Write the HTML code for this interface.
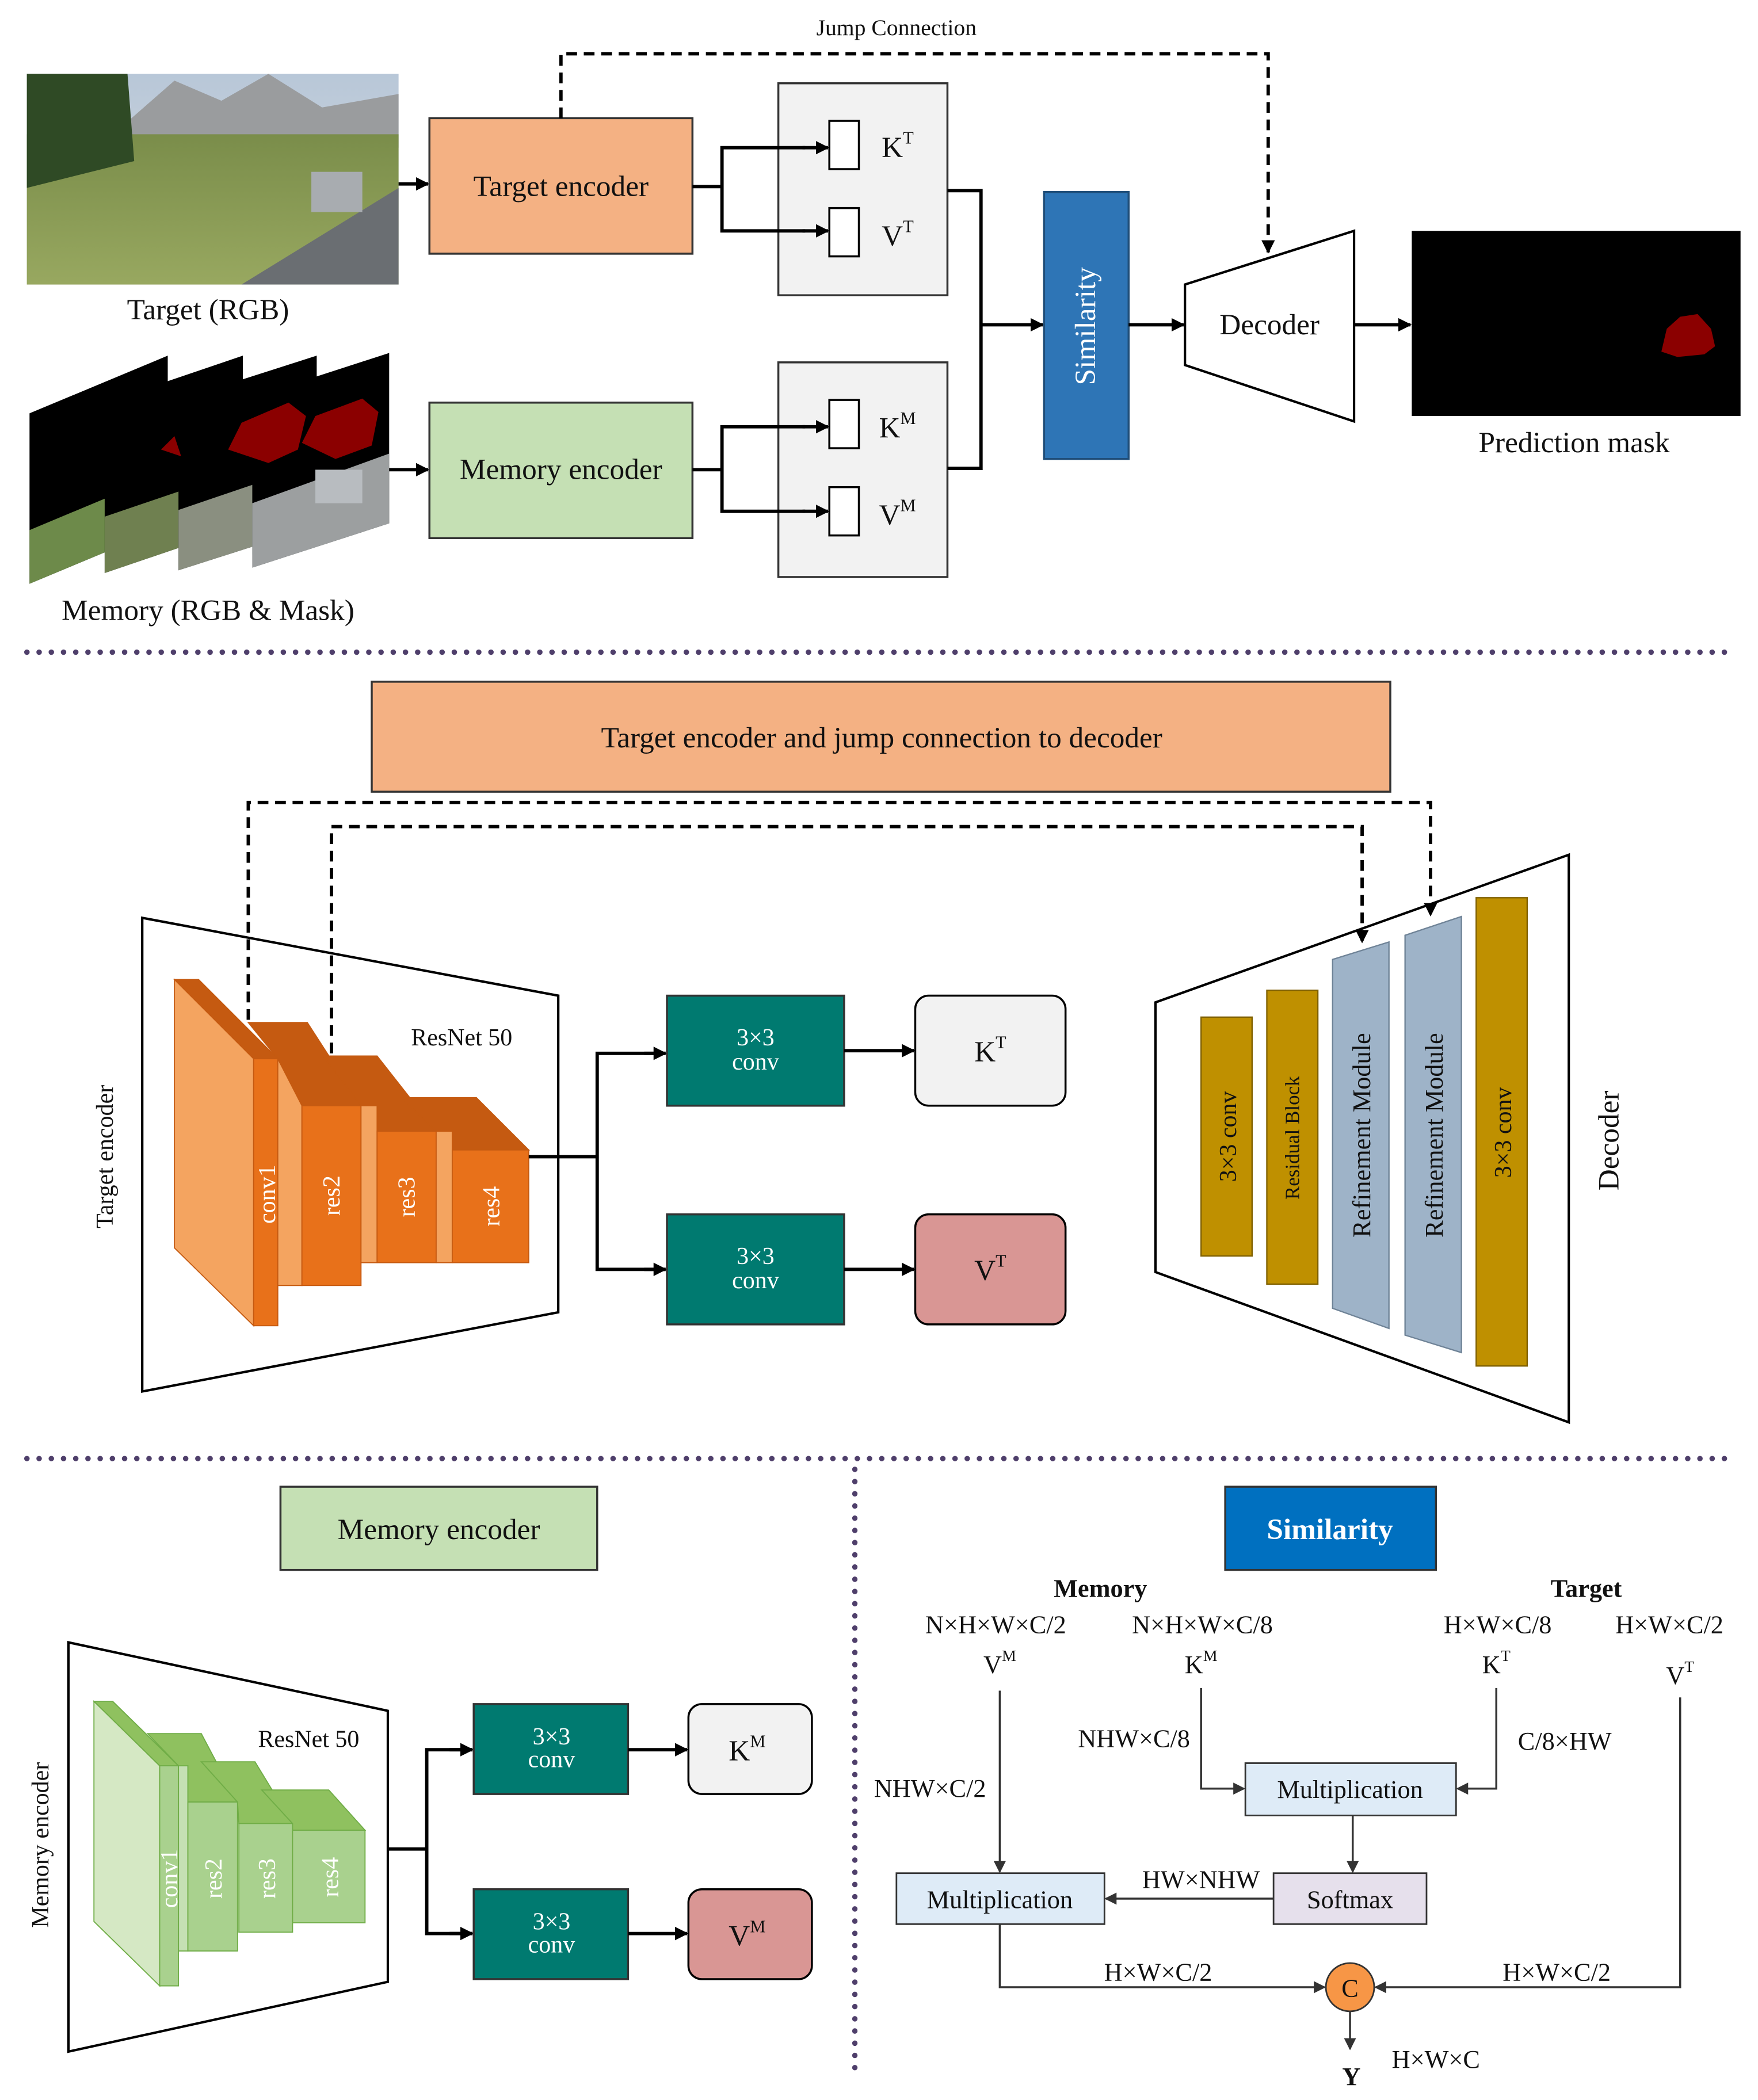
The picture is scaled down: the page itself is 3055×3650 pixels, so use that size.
<!DOCTYPE html>
<html><head><meta charset="utf-8"><style>
html,body{margin:0;padding:0;background:#fff}
svg{display:block}
text{font-family:"Liberation Serif",serif;fill:#111}
</style></head><body>
<svg width="3055" height="3650" viewBox="0 0 1310 1565" xmlns="http://www.w3.org/2000/svg">
<defs>
<marker id="a" markerWidth="10" markerHeight="10" refX="9" refY="5" orient="auto" markerUnits="userSpaceOnUse"><path d="M0,0 L10,5 L0,10 z" fill="#000"/></marker>
<marker id="g" markerWidth="9" markerHeight="9" refX="8" refY="4.5" orient="auto" markerUnits="userSpaceOnUse"><path d="M0,0 L9,4.5 L0,9 z" fill="#333"/></marker>
<linearGradient id="sky" x1="0" y1="0" x2="0" y2="1"><stop offset="0" stop-color="#b8c7d8"/><stop offset="1" stop-color="#d9dde0"/></linearGradient>
<linearGradient id="fld" x1="0" y1="0" x2="0" y2="1"><stop offset="0" stop-color="#7a8d4a"/><stop offset="1" stop-color="#98a860"/></linearGradient>
</defs>

<!-- TOP SECTION -->
<text x="668" y="26" font-size="17" text-anchor="middle">Jump Connection</text>
<rect x="20" y="55" width="277" height="157" fill="url(#sky)"/>
<polygon points="90,95 130,60 165,75 200,55 240,80 297,70 297,110 20,110" fill="#9a9c9e"/>
<rect x="20" y="100" width="277" height="112" fill="url(#fld)"/>
<polygon points="20,55 95,55 100,120 20,140" fill="#2f4a25"/>
<polygon points="180,212 297,140 297,212" fill="#6a6e72"/>
<rect x="232" y="128" width="38" height="30" fill="#a8acb0"/>
<text x="155" y="238" font-size="22" text-anchor="middle">Target (RGB)</text>
<line x1="297" y1="137" x2="319" y2="137" stroke="#000" stroke-width="2.5" marker-end="url(#a)"/>
<rect x="320" y="88" width="196" height="101" fill="#f4b183" stroke="#333" stroke-width="1.5"/>
<text x="418" y="146" font-size="22" text-anchor="middle">Target encoder</text>
<polyline points="418,88 418,40 945,40 945,188" fill="none" stroke="#000" stroke-width="2.5" stroke-dasharray="8,5" marker-end="url(#a)"/>
<rect x="580" y="62" width="126" height="158" fill="#f2f2f2" stroke="#333" stroke-width="1.5"/>
<rect x="618" y="90" width="22" height="36" fill="#fff" stroke="#000" stroke-width="1.5"/>
<rect x="618" y="155" width="22" height="36" fill="#fff" stroke="#000" stroke-width="1.5"/>
<polyline points="516,139 538,139" fill="none" stroke="#000" stroke-width="2.5"/>
<polyline points="600,110 538,110 538,172 600,172" fill="none" stroke="#000" stroke-width="2.5"/>
<line x1="598" y1="110" x2="617" y2="110" stroke="#000" stroke-width="2.5" marker-end="url(#a)"/>
<line x1="598" y1="172" x2="617" y2="172" stroke="#000" stroke-width="2.5" marker-end="url(#a)"/>
<text x="657" y="117" font-size="22">K<tspan font-size="13" dy="-10">T</tspan></text>
<text x="657" y="183" font-size="22">V<tspan font-size="13" dy="-10">T</tspan></text>

<g>
<polygon points="22,308 125,265 125,392 22,435" fill="#000"/>
<polygon points="22,395 125,352 125,392 22,435" fill="#6d8a4a"/>
<polygon points="78,300 181,265 181,392 78,427" fill="#000"/>
<polygon points="78,385 181,350 181,392 78,427" fill="#6f8050"/>
<polygon points="133,298 236,265 236,392 133,425" fill="#000"/>
<polygon points="133,380 236,345 236,392 133,425" fill="#8a8f80"/>
<polygon points="188,296 290,263 290,390 188,423" fill="#000"/>
<polygon points="188,375 290,338 290,390 188,423" fill="#9c9fa0"/>
<path d="M170,335 L180,315 L215,300 L228,310 L222,335 L200,345 Z" fill="#8b0000"/>
<path d="M225,330 L235,310 L270,297 L282,307 L277,332 L250,342 Z" fill="#8b0000"/>
<path d="M120,335 L130,325 L135,340 Z" fill="#8b0000"/>
<rect x="235" y="350" width="35" height="25" fill="#b8bcc0"/>
</g>
<text x="155" y="462" font-size="22" text-anchor="middle">Memory (RGB &amp; Mask)</text>
<line x1="290" y1="350" x2="319" y2="350" stroke="#000" stroke-width="2.5" marker-end="url(#a)"/>
<rect x="320" y="300" width="196" height="101" fill="#c5e0b4" stroke="#333" stroke-width="1.5"/>
<text x="418" y="357" font-size="22" text-anchor="middle">Memory encoder</text>
<rect x="580" y="270" width="126" height="160" fill="#f2f2f2" stroke="#333" stroke-width="1.5"/>
<rect x="618" y="298" width="22" height="36" fill="#fff" stroke="#000" stroke-width="1.5"/>
<rect x="618" y="363" width="22" height="36" fill="#fff" stroke="#000" stroke-width="1.5"/>
<polyline points="516,350 538,350" fill="none" stroke="#000" stroke-width="2.5"/>
<polyline points="600,318 538,318 538,381 600,381" fill="none" stroke="#000" stroke-width="2.5"/>
<line x1="598" y1="318" x2="617" y2="318" stroke="#000" stroke-width="2.5" marker-end="url(#a)"/>
<line x1="598" y1="381" x2="617" y2="381" stroke="#000" stroke-width="2.5" marker-end="url(#a)"/>
<text x="655" y="326" font-size="22">K<tspan font-size="13" dy="-10">M</tspan></text>
<text x="655" y="391" font-size="22">V<tspan font-size="13" dy="-10">M</tspan></text>

<polyline points="706,142 731,142 731,349 706,349" fill="none" stroke="#000" stroke-width="2.5"/>
<line x1="731" y1="242" x2="777" y2="242" stroke="#000" stroke-width="2.5" marker-end="url(#a)"/>
<rect x="778" y="143" width="63" height="199" fill="#2e75b6" stroke="#1f4e79" stroke-width="1.5"/>
<text x="0" y="0" font-size="22" text-anchor="middle" transform="translate(816,243) rotate(-90)" style="fill:#fff">Similarity</text>
<line x1="841" y1="242" x2="882" y2="242" stroke="#000" stroke-width="2.5" marker-end="url(#a)"/>
<polygon points="883,212 1009,172 1009,314 883,272" fill="#fff" stroke="#000" stroke-width="1.8"/>
<text x="946" y="249" font-size="22" text-anchor="middle">Decoder</text>
<line x1="1009" y1="242" x2="1051" y2="242" stroke="#000" stroke-width="2.5" marker-end="url(#a)"/>
<rect x="1052" y="172" width="245" height="138" fill="#000"/>
<path d="M1238,262 L1242,245 L1252,236 L1265,234 L1275,245 L1278,258 L1270,264 L1250,266 Z" fill="#8b0000"/>
<text x="1173" y="337" font-size="22" text-anchor="middle">Prediction mask</text>

<line x1="20" y1="486" x2="1293" y2="486" stroke="#4f3f6b" stroke-width="4" stroke-dasharray="0.1,9" stroke-linecap="round"/>

<!-- MIDDLE SECTION -->
<rect x="277" y="508" width="759" height="82" fill="#f4b183" stroke="#333" stroke-width="1.5"/>
<text x="657" y="557" font-size="22" text-anchor="middle">Target encoder and jump connection to decoder</text>
<polygon points="106,684 416,742 416,978 106,1037" fill="#fff" stroke="#000" stroke-width="1.8"/>
<text x="344" y="779" font-size="18" text-anchor="middle">ResNet 50</text>
<text x="0" y="0" font-size="18" text-anchor="middle" transform="translate(84,862) rotate(-90)">Target encoder</text>
<g stroke="#c55a11" stroke-width="0.8">
<polygon points="130,730 148,730 207,789 189,789" fill="#c55a11"/>
<polygon points="130,730 189,789 189,988 130,930" fill="#f4a460"/>
<rect x="189" y="789" width="18" height="199" fill="#e8711a"/>
<polygon points="207,789 185,762 229,762 269,824 225,824" fill="#c55a11"/>
<polygon points="207,789 225,824 225,958 207,958" fill="#f4a460"/>
<rect x="225" y="824" width="44" height="134" fill="#e8711a"/>
<polygon points="269,824 241,787 281,787 325,843 281,843" fill="#c55a11"/>
<rect x="269" y="824" width="12" height="117" fill="#f4a460"/>
<rect x="281" y="843" width="44" height="98" fill="#e8711a"/>
<polygon points="325,843 299,818 355,818 394,857 337,857" fill="#c55a11"/>
<rect x="325" y="843" width="12" height="98" fill="#f4a460"/>
<rect x="337" y="857" width="57" height="84" fill="#e8711a"/>
</g>
<text x="0" y="0" font-size="18" text-anchor="middle" transform="translate(205,890) rotate(-90)" style="fill:#fff">conv1</text>
<text x="0" y="0" font-size="18" text-anchor="middle" transform="translate(253,891) rotate(-90)" style="fill:#fff">res2</text>
<text x="0" y="0" font-size="18" text-anchor="middle" transform="translate(309,892) rotate(-90)" style="fill:#fff">res3</text>
<text x="0" y="0" font-size="18" text-anchor="middle" transform="translate(372,899) rotate(-90)" style="fill:#fff">res4</text>
<polyline points="394,862 445,862" fill="none" stroke="#000" stroke-width="2.5"/>
<polyline points="496,785 445,785 445,946 496,946" fill="none" stroke="#000" stroke-width="2.5"/>
<line x1="480" y1="785" x2="496" y2="785" stroke="#000" stroke-width="2.5" marker-end="url(#a)"/>
<line x1="480" y1="946" x2="496" y2="946" stroke="#000" stroke-width="2.5" marker-end="url(#a)"/>
<rect x="497" y="742" width="132" height="82" fill="#007a70" stroke="#333" stroke-width="1.5"/>
<rect x="497" y="905" width="132" height="82" fill="#007a70" stroke="#333" stroke-width="1.5"/>
<text x="563" y="779" font-size="18" text-anchor="middle" style="fill:#fff">3×3</text>
<text x="563" y="797" font-size="18" text-anchor="middle" style="fill:#fff">conv</text>
<text x="563" y="942" font-size="18" text-anchor="middle" style="fill:#fff">3×3</text>
<text x="563" y="960" font-size="18" text-anchor="middle" style="fill:#fff">conv</text>
<line x1="629" y1="783" x2="681" y2="783" stroke="#000" stroke-width="2.5" marker-end="url(#a)"/>
<line x1="629" y1="946" x2="681" y2="946" stroke="#000" stroke-width="2.5" marker-end="url(#a)"/>
<rect x="682" y="742" width="112" height="82" rx="10" fill="#f2f2f2" stroke="#000" stroke-width="1.5"/>
<rect x="682" y="905" width="112" height="82" rx="10" fill="#d99694" stroke="#000" stroke-width="1.5"/>
<text x="726" y="791" font-size="22">K<tspan font-size="13" dy="-10">T</tspan></text>
<text x="726" y="954" font-size="22">V<tspan font-size="13" dy="-10">T</tspan></text>

<polygon points="861,747 1169,637 1169,1060 861,948" fill="#fff" stroke="#000" stroke-width="1.8"/>
<rect x="895" y="758" width="38" height="178" fill="#bf9000" stroke="#7f6000" stroke-width="1"/>
<rect x="944" y="738" width="38" height="219" fill="#bf9000" stroke="#7f6000" stroke-width="1"/>
<polygon points="993,715 1035,702 1035,990 993,975" fill="#9eb3c8" stroke="#6f8397" stroke-width="1"/>
<polygon points="1047,697 1089,683 1089,1008 1047,995" fill="#9eb3c8" stroke="#6f8397" stroke-width="1"/>
<rect x="1100" y="669" width="38" height="349" fill="#bf9000" stroke="#7f6000" stroke-width="1"/>
<text x="0" y="0" font-size="18" text-anchor="middle" transform="translate(921,847) rotate(-90)">3×3 conv</text>
<text x="0" y="0" font-size="15" text-anchor="middle" transform="translate(968,848) rotate(-90)">Residual Block</text>
<text x="0" y="0" font-size="19" text-anchor="middle" transform="translate(1021,846) rotate(-90)">Refinement Module</text>
<text x="0" y="0" font-size="19" text-anchor="middle" transform="translate(1075,846) rotate(-90)">Refinement Module</text>
<text x="0" y="0" font-size="18" text-anchor="middle" transform="translate(1126,844) rotate(-90)">3×3 conv</text>
<text x="0" y="0" font-size="22" text-anchor="middle" transform="translate(1206,850) rotate(-90)">Decoder</text>
<polyline points="185,760 185,598 1066,598 1066,682" fill="none" stroke="#000" stroke-width="2.5" stroke-dasharray="8,5" marker-end="url(#a)"/>
<polyline points="247,785 247,616 1015,616 1015,702" fill="none" stroke="#000" stroke-width="2.5" stroke-dasharray="8,5" marker-end="url(#a)"/>

<line x1="20" y1="1087" x2="1285" y2="1087" stroke="#4f3f6b" stroke-width="4" stroke-dasharray="0.1,9" stroke-linecap="round"/>
<line x1="637" y1="1095" x2="637" y2="1545" stroke="#4f3f6b" stroke-width="4" stroke-dasharray="0.1,9" stroke-linecap="round"/>

<!-- BOTTOM LEFT -->
<rect x="209" y="1108" width="236" height="62" fill="#c5e0b4" stroke="#333" stroke-width="1.5"/>
<text x="327" y="1147" font-size="22" text-anchor="middle">Memory encoder</text>
<polygon points="51,1224 289,1275 289,1477 51,1529" fill="#fff" stroke="#000" stroke-width="1.8"/>
<text x="230" y="1302" font-size="18" text-anchor="middle">ResNet 50</text>
<text x="0" y="0" font-size="18" text-anchor="middle" transform="translate(36,1375) rotate(-90)">Memory encoder</text>
<g stroke="#70ad47" stroke-width="0.8">
<polygon points="70,1268 84,1268 133,1316 119,1316" fill="#8fc15f"/>
<polygon points="70,1268 119,1316 119,1480 70,1432" fill="#d5e8c4"/>
<rect x="119" y="1316" width="14" height="164" fill="#a9d18e"/>
<polygon points="133,1316 110,1292 150,1292 177,1343 140,1343" fill="#8fc15f"/>
<rect x="133" y="1316" width="7" height="138" fill="#c5e0b4"/>
<rect x="140" y="1343" width="37" height="111" fill="#a9d18e"/>
<polygon points="177,1343 150,1313 190,1313 218,1359 178,1359" fill="#8fc15f"/>
<rect x="178" y="1359" width="40" height="81" fill="#a9d18e"/>
<polygon points="218,1359 195,1334 245,1334 272,1364 218,1364" fill="#8fc15f"/>
<rect x="218" y="1364" width="54" height="69" fill="#a9d18e"/>
</g>
<text x="0" y="0" font-size="18" text-anchor="middle" transform="translate(132,1400) rotate(-90)" style="fill:#fff">conv1</text>
<text x="0" y="0" font-size="18" text-anchor="middle" transform="translate(165,1400) rotate(-90)" style="fill:#fff">res2</text>
<text x="0" y="0" font-size="18" text-anchor="middle" transform="translate(205,1400) rotate(-90)" style="fill:#fff">res3</text>
<text x="0" y="0" font-size="18" text-anchor="middle" transform="translate(252,1399) rotate(-90)" style="fill:#fff">res4</text>
<polyline points="289,1378 318,1378" fill="none" stroke="#000" stroke-width="2.5"/>
<polyline points="352,1304 318,1304 318,1441 352,1441" fill="none" stroke="#000" stroke-width="2.5"/>
<line x1="335" y1="1304" x2="352" y2="1304" stroke="#000" stroke-width="2.5" marker-end="url(#a)"/>
<line x1="335" y1="1441" x2="352" y2="1441" stroke="#000" stroke-width="2.5" marker-end="url(#a)"/>
<rect x="353" y="1270" width="115" height="67" fill="#007a70" stroke="#333" stroke-width="1.5"/>
<rect x="353" y="1408" width="115" height="67" fill="#007a70" stroke="#333" stroke-width="1.5"/>
<text x="411" y="1300" font-size="18" text-anchor="middle" style="fill:#fff">3×3</text>
<text x="411" y="1317" font-size="18" text-anchor="middle" style="fill:#fff">conv</text>
<text x="411" y="1438" font-size="18" text-anchor="middle" style="fill:#fff">3×3</text>
<text x="411" y="1455" font-size="18" text-anchor="middle" style="fill:#fff">conv</text>
<line x1="468" y1="1304" x2="512" y2="1304" stroke="#000" stroke-width="2.5" marker-end="url(#a)"/>
<line x1="468" y1="1441" x2="512" y2="1441" stroke="#000" stroke-width="2.5" marker-end="url(#a)"/>
<rect x="513" y="1270" width="92" height="67" rx="10" fill="#f2f2f2" stroke="#000" stroke-width="1.5"/>
<rect x="513" y="1408" width="92" height="67" rx="10" fill="#d99694" stroke="#000" stroke-width="1.5"/>
<text x="543" y="1312" font-size="22">K<tspan font-size="13" dy="-10">M</tspan></text>
<text x="543" y="1450" font-size="22">V<tspan font-size="13" dy="-10">M</tspan></text>

<!-- BOTTOM RIGHT -->
<rect x="913" y="1108" width="157" height="62" fill="#0070c0" stroke="#333" stroke-width="1.5"/>
<text x="991" y="1147" font-size="22" font-weight="bold" text-anchor="middle" style="fill:#fff">Similarity</text>
<text x="820" y="1190" font-size="19" font-weight="bold" text-anchor="middle">Memory</text>
<text x="1182" y="1190" font-size="19" font-weight="bold" text-anchor="middle">Target</text>
<g font-size="19" text-anchor="middle">
<text x="742" y="1217">N×H×W×C/2</text>
<text x="896" y="1217">N×H×W×C/8</text>
<text x="1116" y="1217">H×W×C/8</text>
<text x="1244" y="1217">H×W×C/2</text>
<text x="745" y="1247">V<tspan font-size="12" dy="-9">M</tspan></text>
<text x="895" y="1247">K<tspan font-size="12" dy="-9">M</tspan></text>
<text x="1115" y="1247">K<tspan font-size="12" dy="-9">T</tspan></text>
<text x="1252" y="1255">V<tspan font-size="12" dy="-9">T</tspan></text>
<text x="845" y="1302">NHW×C/8</text>
<text x="1166" y="1304">C/8×HW</text>
<text x="693" y="1339">NHW×C/2</text>
<text x="895" y="1407">HW×NHW</text>
<text x="863" y="1476">H×W×C/2</text>
<text x="1160" y="1476">H×W×C/2</text>
<text x="1070" y="1541">H×W×C</text>
</g>
<g stroke="#333" stroke-width="1.5" fill="none">
<line x1="745" y1="1260" x2="745" y2="1395" marker-end="url(#g)"/>
<polyline points="895,1258 895,1333 927,1333" marker-end="url(#g)"/>
<polyline points="1115,1258 1115,1333 1086,1333" marker-end="url(#g)"/>
<line x1="1008" y1="1353" x2="1008" y2="1395" marker-end="url(#g)"/>
<line x1="949" y1="1415" x2="824" y2="1415" marker-end="url(#g)"/>
<polyline points="745,1434 745,1481 987,1481" marker-end="url(#g)"/>
<polyline points="1252,1265 1252,1481 1025,1481" marker-end="url(#g)"/>
<line x1="1006" y1="1499" x2="1006" y2="1527" marker-end="url(#g)"/>
</g>
<rect x="668" y="1396" width="155" height="38" fill="#deebf7" stroke="#333" stroke-width="1.2"/>
<text x="745" y="1422" font-size="19" text-anchor="middle">Multiplication</text>
<rect x="928" y="1314" width="157" height="39" fill="#deebf7" stroke="#333" stroke-width="1.2"/>
<text x="1006" y="1340" font-size="19" text-anchor="middle">Multiplication</text>
<rect x="949" y="1396" width="114" height="38" fill="#e6e0ec" stroke="#333" stroke-width="1.2"/>
<text x="1006" y="1422" font-size="19" text-anchor="middle">Softmax</text>
<circle cx="1006" cy="1481" r="18" fill="#f79646" stroke="#333" stroke-width="1.2"/>
<text x="1006" y="1488" font-size="19" text-anchor="middle">C</text>
<text x="1007" y="1554" font-size="19" font-weight="bold" text-anchor="middle">Y</text>
</svg>
</body></html>
